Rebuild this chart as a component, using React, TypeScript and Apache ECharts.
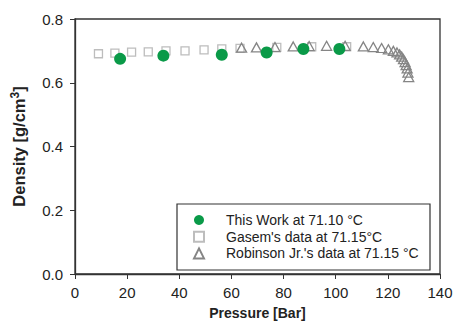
import React, { useEffect, useRef } from "react";
import * as echarts from "echarts";

const thisWorkP = [17.3, 33.9, 56.3, 73.5, 87.6, 101.4];
const thisWorkD = [0.675, 0.685, 0.688, 0.695, 0.706, 0.706];

const gasemP = [9.0, 15.3, 21.7, 28.1, 34.9, 42.2, 49.5, 56.3, 63.3, 77.4, 90.8, 104.2];
const gasemD = [0.691, 0.693, 0.696, 0.697, 0.7, 0.7, 0.703, 0.706, 0.708, 0.711, 0.713, 0.713];

const robinsonP = [63.9, 69.6, 76.7, 83.7, 89.8, 96.5, 103.6, 110.6, 114.4, 117.6, 120.2, 122.1, 123.5, 124.5, 125.3, 126.0, 126.6, 127.0, 127.4, 127.7, 128.0];
const robinsonD = [0.71, 0.711, 0.712, 0.714, 0.715, 0.716, 0.716, 0.714, 0.712, 0.709, 0.705, 0.7, 0.695, 0.689, 0.682, 0.674, 0.665, 0.655, 0.645, 0.632, 0.618];

const seriesNames = [
  "This Work at 71.10 °C",
  "Gasem's data at 71.15°C",
  "Robinson Jr.'s data at 71.15 °C",
];

const xTicks = { min: 0, max: 140, interval: 20 };
const yTicks = { min: 0, max: 0.8, interval: 0.2 };

const FONT = "'Liberation Sans', Arial, sans-serif";

function pairs(xs: number[], ys: number[]) {
  return xs.map((x, i) => [x, ys[i]]);
}

export default function App() {
  const ref = useRef<HTMLDivElement>(null);
  useEffect(() => {
    if (!ref.current) return;
    const chart = echarts.init(ref.current, null, { renderer: "svg" });
    const axisColor = "#333";
    chart.setOption({
      animation: false,
      backgroundColor: "#fff",
      textStyle: { fontFamily: FONT },
      grid: {
        left: 75,
        right: 16,
        top: 19,
        bottom: 49,
        show: true,
        borderColor: axisColor,
        borderWidth: 1.3,
        backgroundColor: "transparent",
      },
      xAxis: {
        type: "value",
        min: xTicks.min,
        max: xTicks.max,
        interval: xTicks.interval,
        name: "Pressure [Bar]",
        nameLocation: "middle",
        nameGap: 32,
        nameTextStyle: { fontFamily: FONT, fontWeight: "bold", fontSize: 14, color: "#222" },
        axisLine: { show: true, lineStyle: { color: axisColor, width: 1.3 } },
        axisTick: { show: true, inside: false, length: 5, lineStyle: { color: axisColor } },
        axisLabel: { fontFamily: FONT, fontSize: 15, color: "#222", margin: 11 },
        splitLine: { show: false },
      },
      yAxis: {
        type: "value",
        min: yTicks.min,
        max: yTicks.max,
        interval: yTicks.interval,
        name: "Density [g/cm{sup|3}]",
        nameLocation: "middle",
        nameGap: 46,
        nameTextStyle: {
          fontFamily: FONT,
          fontWeight: "bold",
          fontSize: 16.5,
          color: "#222",
          rich: {
            sup: { fontFamily: FONT, fontWeight: "bold", fontSize: 12, color: "#222", padding: [0, 0, 8, 0] },
          },
        },
        axisLine: { show: true, lineStyle: { color: axisColor, width: 1.3 } },
        axisTick: { show: true, inside: false, length: 5, lineStyle: { color: axisColor } },
        axisLabel: {
          fontFamily: FONT,
          fontSize: 15,
          color: "#222",
          margin: 12,
          formatter: (v: number) => v.toFixed(1),
        },
        splitLine: { show: false },
      },
      legend: {
        orient: "vertical",
        left: 193,
        top: 212,
        itemWidth: 10,
        itemHeight: 10,
        itemGap: 0.7,
        padding: 0,
        textStyle: { fontFamily: FONT, fontSize: 14, color: "#222", lineHeight: 16, padding: [0, 0, 0, 17] },
        data: seriesNames,
      },
      graphic: [
        {
          type: "rect",
          shape: { x: 177, y: 204, width: 253, height: 66 },
          style: { fill: "#fff", stroke: "#333", lineWidth: 1.2 },
          z: 0,
          silent: true,
        },
      ],
      series: [
        {
          name: seriesNames[1],
          type: "scatter",
          data: pairs(gasemP, gasemD),
          symbol: "rect",
          symbolSize: 8,
          itemStyle: { color: "#fff", borderColor: "#bdbdbd", borderWidth: 1.3, opacity: 1 },
          z: 3,
        },
        {
          name: seriesNames[2],
          type: "scatter",
          data: pairs(robinsonP, robinsonD),
          symbol: "triangle",
          symbolSize: [10, 9],
          itemStyle: { color: "rgba(255,255,255,0)", borderColor: "#858585", borderWidth: 1.3, opacity: 1 },
          z: 4,
        },
        {
          name: seriesNames[0],
          type: "scatter",
          data: pairs(thisWorkP, thisWorkD),
          symbol: "circle",
          symbolSize: 12,
          itemStyle: { color: "#0a9a48", opacity: 1 },
          z: 5,
        },
      ],
    });
    return () => chart.dispose();
  }, []);
  return <div ref={ref} style={{ width: 456, height: 325, position: "absolute", left: 0, top: 0 }} />;
}
